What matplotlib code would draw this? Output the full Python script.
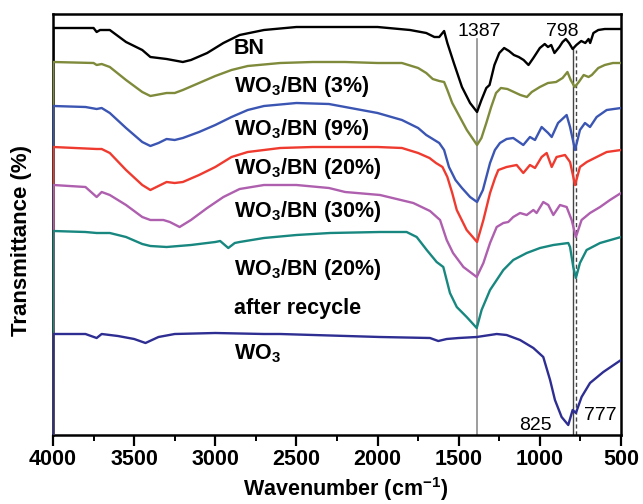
import numpy as np
import matplotlib
matplotlib.use("Agg")
import matplotlib.pyplot as plt
from matplotlib.ticker import MultipleLocator

plt.rcParams['font.family'] = ['Liberation Sans', 'DejaVu Sans']
plt.rcParams['mathtext.fontset'] = 'custom'
plt.rcParams['mathtext.rm'] = 'Liberation Sans:bold'
plt.rcParams['mathtext.bf'] = 'Liberation Sans:bold'

# FTIR spectra, stacked with offsets (arbitrary transmittance units)
# each spectrum starts from the bottom of the frame at 4000 cm-1
wn_bn = [4000, 3998, 3750, 3731, 3710, 3650, 3550, 3450, 3400, 3300, 3200, 3150, 3050, 2950, 2850,
         2700, 2500, 2200, 2000, 1800, 1700, 1650, 1620, 1590, 1570, 1530, 1480, 1430, 1387,
         1360, 1330, 1310, 1280, 1250, 1220, 1190, 1160, 1130, 1100, 1070, 1040, 1000, 970,
         950, 930, 910, 880, 860, 840, 820, 798, 775, 745, 720, 700, 690, 670, 640, 600, 500]
t_bn = [0, 407, 407, 403, 405, 405, 393, 385, 378, 376, 373, 375, 382, 392, 400,
        405, 408, 408, 408, 405, 402, 398, 398, 404, 392, 372, 348, 332, 323,
        335, 347, 350, 370, 382, 387, 384, 380, 378, 375, 370, 377, 387, 391,
        388, 390, 382, 388, 393, 396, 392, 386, 390, 394, 392, 396, 392, 402, 405, 406, 406]

wn_3 = [4000, 3998, 3750, 3731, 3700, 3650, 3550, 3450, 3400, 3300, 3250, 3200, 3100, 3000, 2900,
        2800, 2600, 2400, 2200, 2000, 1850, 1750, 1700, 1660, 1620, 1590, 1570, 1540, 1500,
        1450, 1387, 1360, 1330, 1300, 1270, 1240, 1200, 1160, 1120, 1080, 1050, 1000, 950,
        900, 860, 830, 810, 785, 760, 730, 700, 680, 640, 600, 550, 500]
t_3 = [0, 373, 372, 370, 371, 368, 355, 343, 339, 342, 342, 345, 352, 359, 365,
       369, 372, 373, 373, 372, 372, 367, 362, 356, 354, 353, 345, 332, 320,
       305, 290, 297, 312, 328, 342, 347, 346, 343, 340, 338, 343, 348, 352,
       353, 357, 363, 355, 348, 353, 360, 358, 360, 367, 370, 372, 372]

wn_9 = [4000, 3998, 3800, 3731, 3700, 3650, 3550, 3450, 3400, 3350, 3300, 3250, 3200, 3100, 3000,
        2900, 2800, 2700, 2500, 2300, 2200, 2000, 1850, 1750, 1700, 1650, 1620, 1590, 1560,
        1520, 1480, 1430, 1387, 1351, 1307, 1277, 1246, 1205, 1164, 1102, 1061, 1030, 989,
        949, 927, 888, 835, 814, 783, 753, 722, 691, 650, 588, 500]
t_9 = [0, 329, 328, 326, 327, 322, 307, 293, 289, 292, 296, 295, 297, 303, 310,
       318, 325, 329, 332, 331, 328, 322, 315, 307, 300, 295, 292, 285, 268,
       255, 247, 238, 233, 245, 272, 285, 292, 296, 297, 290, 298, 295, 308,
       302, 298, 312, 320, 308, 285, 305, 312, 308, 318, 325, 327]

wn_20 = [4000, 3998, 3731, 3700, 3650, 3550, 3450, 3400, 3350, 3300, 3250, 3200, 3100, 3000, 2900,
         2800, 2600, 2400, 2200, 2000, 1850, 1750, 1680, 1640, 1600, 1570, 1540, 1512, 1451,
         1387, 1348, 1307, 1276, 1256, 1205, 1143, 1102, 1061, 1030, 989, 958, 927, 897,
         845, 814, 783, 753, 711, 650, 588, 500]
t_20 = [0, 288, 286, 286, 282, 265, 250, 245, 249, 253, 252, 253, 260, 268, 278,
        283, 287, 288, 288, 288, 287, 282, 277, 272, 268, 258, 242, 225, 205,
        193, 215, 242, 257, 265, 268, 270, 262, 270, 267, 278, 282, 268, 278,
        280, 273, 250, 268, 273, 278, 283, 285]

wn_30 = [4000, 3998, 3800, 3731, 3700, 3650, 3550, 3450, 3400, 3320, 3280, 3220, 3150, 3050, 2950,
         2850, 2700, 2500, 2300, 2200, 1985, 1780, 1677, 1615, 1574, 1535, 1471, 1389, 1348,
         1307, 1266, 1225, 1195, 1164, 1122, 1081, 1040, 1020, 979, 948, 917, 876, 835,
         804, 778, 743, 691, 629, 568, 500]
t_30 = [0, 250, 248, 238, 243, 240, 230, 218, 215, 215, 213, 208, 215, 227, 238,
        246, 250, 250, 247, 243, 240, 232, 224, 215, 195, 182, 168, 158, 172,
        192, 208, 212, 213, 218, 222, 220, 225, 222, 233, 230, 220, 230, 228,
        215, 198, 215, 222, 228, 235, 242]

wn_rec = [4000, 3998, 3800, 3731, 3650, 3550, 3450, 3400, 3300, 3150, 3000, 2970, 2920, 2880, 2850,
          2700, 2500, 2293, 1985, 1821, 1759, 1697, 1636, 1595, 1554, 1512, 1451, 1389, 1359,
          1307, 1266, 1225, 1164, 1081, 999, 917, 825, 814, 794, 778, 753, 712, 629, 500]
t_rec = [0, 204, 203, 202, 202, 198, 191, 189, 188, 190, 193, 194, 187, 192, 193,
         197, 200, 202, 203, 203, 198, 185, 173, 168, 142, 128, 118, 107, 125,
         145, 155, 165, 175, 182, 187, 190, 192, 188, 168, 157, 172, 185, 192, 198]

wn_wo3 = [4000, 3998, 3800, 3731, 3700, 3600, 3500, 3430, 3350, 3250, 3000, 2700, 2601, 1985, 1677,
          1626, 1574, 1500, 1389, 1266, 1205, 1122, 1040, 979, 937, 907, 866, 825, 798,
          778, 743, 691, 609, 500]
t_wo3 = [0, 101, 101, 97, 101, 99, 96, 92, 98, 101, 102, 101, 101, 98, 97,
         94, 96, 97, 98, 101, 100, 95, 87, 78, 55, 35, 18, 10, 25,
         22, 38, 52, 63, 75]

series = [
    (wn_bn, t_bn, "black", "BN"),
    (wn_3, t_3, "#7f8a3a", r"WO$_\mathbf{3}$/BN (3%)"),
    (wn_9, t_9, "#3b55b3", r"WO$_\mathbf{3}$/BN (9%)"),
    (wn_20, t_20, "#ef3b2f", r"WO$_\mathbf{3}$/BN (20%)"),
    (wn_30, t_30, "#ae5fae", r"WO$_\mathbf{3}$/BN (30%)"),
    (wn_rec, t_rec, "#17877f", r"WO$_\mathbf{3}$/BN (20%)"),
    (wn_wo3, t_wo3, "#2d2d92", r"WO$_\mathbf{3}$"),
]
# label anchor (baseline) for each curve name
label_x = 2885
label_y = [381, 343, 300, 261, 218, 160, 76]

peaks = [1387, 798, 777]
peak_top = [396, 387, 385]

fig = plt.figure(figsize=(6.43, 5.04), dpi=100)
ax = fig.add_axes([53 / 643, 1 - 435 / 504, 568 / 643, 421 / 504])

ax.axvline(peaks[0], ymax=peak_top[0] / 421, color="#8c8c8c", lw=1.2, zorder=1)
ax.axvline(peaks[1], ymax=peak_top[1] / 421, color="#444444", lw=1.0, zorder=1)
ax.axvline(peaks[2], ymax=peak_top[2] / 421, color="#444444", lw=1.0, ls=(0, (3, 2)), zorder=1)

for (wn, t, c, name), ly in zip(series, label_y):
    ax.plot(wn, t, color=c, lw=1.7, zorder=3)
    ax.text(label_x, ly, name, fontsize=15.5, fontweight="bold", ha="left", va="baseline")

ax.text(label_x, 121, "after recycle", fontsize=15.5, fontweight="bold", ha="left", va="baseline")

ax.text(1372, 404, "1387", fontsize=14, ha="center", va="center")
ax.text(865, 404, "798", fontsize=14, ha="center", va="center")
ax.text(1030, 10, "825", fontsize=14, ha="center", va="center")
ax.text(629, 19, "777", fontsize=14, ha="center", va="center")

ax.set_xlim(4000, 500)
ax.set_ylim(0, 421)
ax.xaxis.set_major_locator(MultipleLocator(500))
ax.xaxis.set_minor_locator(MultipleLocator(250))
ax.tick_params(axis="x", which="major", direction="out", length=8, width=1.6,
               labelsize=15.5, pad=2)
ax.tick_params(axis="x", which="minor", direction="out", length=4, width=1.4)
ax.tick_params(axis="y", left=False, labelleft=False)
for lab in ax.get_xticklabels():
    lab.set_fontweight("bold")
for sp in ax.spines.values():
    sp.set_linewidth(1.8)
    sp.set_zorder(2.5)

ax.set_xlabel(r"Wavenumber (cm$^\mathbf{-1}$)", fontsize=15.5, fontweight="bold")
ax.xaxis.label.set_va("center")
ax.xaxis.set_label_coords(0.515, -(489 - 435) / 421)
ax.set_ylabel("Transmittance (%)", fontsize=16, fontweight="bold")
ax.yaxis.label.set_va("center")
ax.yaxis.set_label_coords((22 - 53) / 568, (435 - 240) / 421)

fig.savefig("out.png", dpi=100)
